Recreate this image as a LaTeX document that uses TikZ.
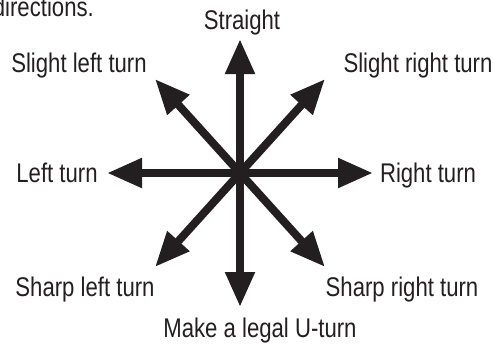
\documentclass[tikz,border=0pt]{standalone}
\usepackage{fontspec}
\setmainfont{Liberation Sans}[FakeStretch=0.82]
\usetikzlibrary{arrows.meta}
\definecolor{ink}{HTML}{231F20}
\begin{document}
\begin{tikzpicture}[x=1pt,y=-1pt,
  lbl/.style={inner sep=0pt,anchor=base,text=ink,font=\fontsize{27}{32}\selectfont},
  dirarrow/.style={draw=ink,line width=8pt,-{Triangle[length=35pt,width=28pt]}}]
\useasboundingbox (0,0) rectangle (494,343);
\coordinate (c) at (240,173);
\coordinate (tN) at (240,39);
\coordinate (tS) at (240,307);
\coordinate (tW) at (107,173);
\coordinate (tE) at (373,173);
\coordinate (tNE) at (325,79);
\coordinate (tNW) at (155,79);
\coordinate (tSW) at (155,267);
\coordinate (tSE) at (325,267);
\foreach \t in {tN,tS,tW,tE,tNE,tNW,tSW,tSE}
  \draw[dirarrow] (c) -- (\t);
\node[lbl,anchor=base east] (dir) at (94,16) {directions.};
\node[lbl] (straight) at (242,29) {Straight};
\node[lbl] (slightleft) at (79,72) {Slight left turn};
\node[lbl] (slightright) at (418,72) {Slight right turn};
\node[lbl] (left) at (57,182) {Left turn};
\node[lbl] (right) at (428,182) {Right turn};
\node[lbl] (sharpleft) at (85,296) {Sharp left turn};
\node[lbl] (sharpright) at (402,296) {Sharp right turn};
\node[lbl] (uturn) at (260,337) {Make a legal U-turn};
\end{tikzpicture}
\end{document}
